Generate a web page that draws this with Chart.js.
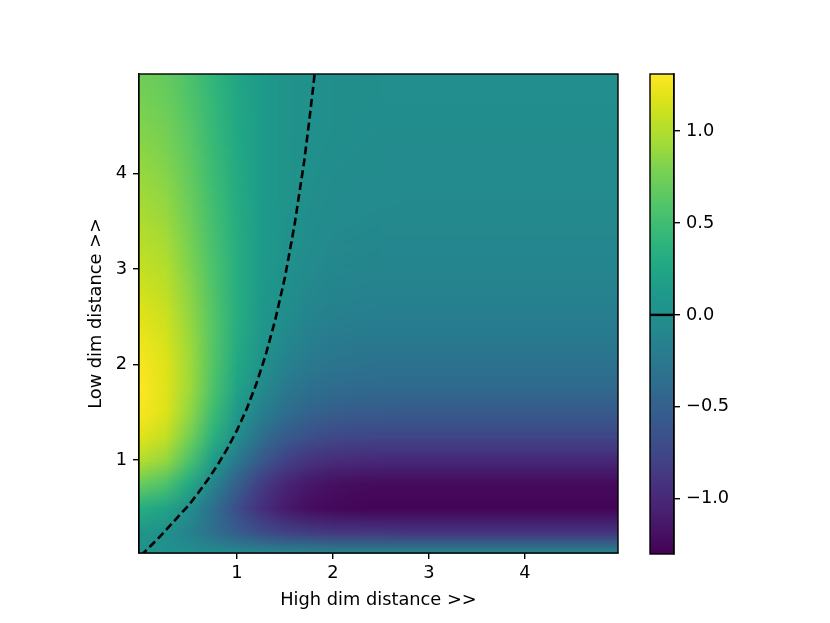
<!DOCTYPE html>
<html>
<head>
  <meta charset="UTF-8">
  <title>High dim vs low dim distance</title>
  <script src="https://cdn.jsdelivr.net/npm/chart.js"></script>
  <style>
    body { margin: 0; background: #fff; }
    #wrap { position: relative; width: 830px; height: 623px; }
    #mainChart { position: absolute; left: 0; top: 0; }
    #barChart { position: absolute; left: 620px; top: 0; }
  </style>
</head>
<body>
  <div id="wrap">
    <canvas id="mainChart" width="830" height="623"></canvas>
    <canvas id="barChart" width="210" height="623"></canvas>
  </div>

  <script>
    // grid sample positions (high dim distance = x, low dim distance = y)
    const xValues = [0, 0.25, 0.5, 0.75, 1, 1.25, 1.5, 1.75, 2, 2.25, 2.5, 2.75, 3, 3.25, 3.5, 3.75, 4, 4.25, 4.5, 4.75, 5];
    const yValues = [0, 0.25, 0.5, 0.75, 1, 1.25, 1.5, 1.75, 2, 2.25, 2.5, 2.75, 3, 3.25, 3.5, 3.75, 4, 4.25, 4.5, 4.75, 5];

    // one row per y value
    const zRows = [
      [0, 0, 0, 0, 0, 0, 0, 0, 0, 0, 0, 0, 0, 0, 0, 0, 0, 0, 0, 0, 0],
      [0.06, 0.00, -0.15, -0.35, -0.54, -0.69, -0.79, -0.84, -0.87, -0.88, -0.88, -0.89, -0.89, -0.89, -0.89, -0.89, -0.89, -0.89, -0.89, -0.89, -0.89],
      [0.32, 0.22, -0.03, -0.37, -0.69, -0.94, -1.11, -1.21, -1.25, -1.27, -1.28, -1.28, -1.28, -1.28, -1.28, -1.28, -1.28, -1.28, -1.28, -1.28, -1.28],
      [0.69, 0.57, 0.27, -0.13, -0.52, -0.83, -1.03, -1.14, -1.19, -1.22, -1.23, -1.23, -1.23, -1.23, -1.23, -1.23, -1.23, -1.23, -1.23, -1.23, -1.23],
      [1.00, 0.88, 0.56, 0.14, -0.26, -0.58, -0.79, -0.91, -0.96, -0.99, -1.00, -1.00, -1.00, -1.00, -1.00, -1.00, -1.00, -1.00, -1.00, -1.00, -1.00],
      [1.19, 1.07, 0.76, 0.35, -0.04, -0.35, -0.56, -0.67, -0.73, -0.75, -0.76, -0.76, -0.76, -0.76, -0.76, -0.76, -0.76, -0.76, -0.76, -0.76, -0.76],
      [1.28, 1.17, 0.87, 0.48, 0.11, -0.18, -0.37, -0.48, -0.53, -0.56, -0.56, -0.57, -0.57, -0.57, -0.57, -0.57, -0.57, -0.57, -0.57, -0.57, -0.57],
      [1.30, 1.19, 0.92, 0.56, 0.21, -0.06, -0.24, -0.34, -0.39, -0.41, -0.42, -0.42, -0.42, -0.42, -0.42, -0.42, -0.42, -0.42, -0.42, -0.42, -0.42],
      [1.28, 1.18, 0.93, 0.59, 0.27, 0.02, -0.15, -0.25, -0.29, -0.31, -0.32, -0.32, -0.32, -0.32, -0.32, -0.32, -0.32, -0.32, -0.32, -0.32, -0.32],
      [1.24, 1.15, 0.91, 0.60, 0.30, 0.07, -0.09, -0.18, -0.22, -0.24, -0.24, -0.24, -0.24, -0.24, -0.24, -0.24, -0.24, -0.24, -0.24, -0.24, -0.24],
      [1.19, 1.11, 0.88, 0.60, 0.32, 0.10, -0.04, -0.13, -0.17, -0.18, -0.19, -0.19, -0.19, -0.19, -0.19, -0.19, -0.19, -0.19, -0.19, -0.19, -0.19],
      [1.13, 1.06, 0.85, 0.58, 0.32, 0.12, -0.01, -0.09, -0.13, -0.14, -0.15, -0.15, -0.15, -0.15, -0.15, -0.15, -0.15, -0.15, -0.15, -0.15, -0.15],
      [1.08, 1.01, 0.81, 0.56, 0.32, 0.13, 0.01, -0.06, -0.10, -0.11, -0.12, -0.12, -0.12, -0.12, -0.12, -0.12, -0.12, -0.12, -0.12, -0.12, -0.12],
      [1.03, 0.96, 0.78, 0.54, 0.32, 0.14, 0.02, -0.04, -0.08, -0.09, -0.10, -0.10, -0.10, -0.10, -0.10, -0.10, -0.10, -0.10, -0.10, -0.10, -0.10],
      [0.98, 0.91, 0.74, 0.52, 0.31, 0.14, 0.03, -0.03, -0.06, -0.07, -0.08, -0.08, -0.08, -0.08, -0.08, -0.08, -0.08, -0.08, -0.08, -0.08, -0.08],
      [0.93, 0.87, 0.71, 0.50, 0.30, 0.14, 0.04, -0.02, -0.05, -0.06, -0.06, -0.07, -0.07, -0.07, -0.07, -0.07, -0.07, -0.07, -0.07, -0.07, -0.07],
      [0.89, 0.83, 0.68, 0.48, 0.29, 0.14, 0.04, -0.01, -0.04, -0.05, -0.05, -0.06, -0.06, -0.06, -0.06, -0.06, -0.06, -0.06, -0.06, -0.06, -0.06],
      [0.85, 0.79, 0.65, 0.46, 0.28, 0.14, 0.05, -0.01, -0.03, -0.04, -0.05, -0.05, -0.05, -0.05, -0.05, -0.05, -0.05, -0.05, -0.05, -0.05, -0.05],
      [0.81, 0.76, 0.62, 0.44, 0.27, 0.14, 0.05, 0.00, -0.02, -0.03, -0.04, -0.04, -0.04, -0.04, -0.04, -0.04, -0.04, -0.04, -0.04, -0.04, -0.04],
      [0.77, 0.72, 0.59, 0.43, 0.26, 0.13, 0.05, 0.00, -0.02, -0.03, -0.03, -0.03, -0.03, -0.03, -0.03, -0.03, -0.03, -0.03, -0.03, -0.03, -0.03],
      [0.74, 0.69, 0.57, 0.41, 0.25, 0.13, 0.05, 0.01, -0.02, -0.02, -0.03, -0.03, -0.03, -0.03, -0.03, -0.03, -0.03, -0.03, -0.03, -0.03, -0.03]
    ];

    // zero contour (dashed)
    const contourX = [0, 0.1, 0.2, 0.3, 0.4, 0.5, 0.6, 0.7, 0.8, 0.9, 1.0, 1.1, 1.2, 1.3, 1.4, 1.5, 1.6, 1.7, 1.75, 1.8, 1.81];
    const contourY = [0, 0.10, 0.20, 0.31, 0.42, 0.53, 0.66, 0.80, 0.95, 1.12, 1.31, 1.53, 1.79, 2.10, 2.47, 2.91, 3.46, 4.12, 4.52, 4.95, 5.05];

    const xTicks = [1, 2, 3, 4];
    const yTicks = [1, 2, 3, 4];
    const cbTicks = [-1.0, -0.5, 0.0, 0.5, 1.0];
    const cbMin = -1.30, cbMax = 1.31, contourLevel = 0;

    // viridis, 21 stops
    const viridisStops = ['#440154', '#471365', '#482475', '#46337f', '#414487', '#3b528b', '#355f8d', '#2f6c8e', '#2a788e', '#25848e', '#21918c',
      '#1e9b8a', '#22a884', '#2fb47c', '#44bf70', '#5ec962', '#7ad151', '#9fda3a', '#bddf26', '#dfe318', '#fde725'];
    const stopRgb = viridisStops.map(h => [1, 3, 5].map(k => parseInt(h.substr(k, 2), 16)));

    function viridis(t) {
      t = Math.min(1, Math.max(0, t)) * (stopRgb.length - 1);
      const i = Math.min(stopRgb.length - 2, Math.floor(t));
      const f = t - i;
      return stopRgb[i].map((c, k) => Math.round(c + (stopRgb[i + 1][k] - c) * f));
    }

    Chart.defaults.font.family = 'DejaVu Sans';
    Chart.defaults.font.size = 17.8;
    Chart.defaults.color = '#000';

    const heatmapPlugin = {
      id: 'heatmap',
      beforeDatasetsDraw(chart) {
        const { ctx, chartArea: a, scales: { x, y } } = chart;
        const img = document.createElement('canvas');
        img.width = xValues.length;
        img.height = yValues.length;
        const ictx = img.getContext('2d');
        const pix = ictx.createImageData(img.width, img.height);
        zRows.forEach((row, j) => row.forEach((v, i) => {
          const c = viridis((v - cbMin) / (cbMax - cbMin));
          const k = ((img.height - 1 - j) * img.width + i) * 4;
          pix.data[k] = c[0]; pix.data[k + 1] = c[1]; pix.data[k + 2] = c[2]; pix.data[k + 3] = 255;
        }));
        ictx.putImageData(pix, 0, 0);

        const dx = (xValues[1] - xValues[0]) / 2, dy = (yValues[1] - yValues[0]) / 2;
        const left = x.getPixelForValue(xValues[0] - dx);
        const right = x.getPixelForValue(xValues[xValues.length - 1] + dx);
        const top = y.getPixelForValue(yValues[yValues.length - 1] + dy);
        const bottom = y.getPixelForValue(yValues[0] - dy);

        ctx.save();
        ctx.beginPath();
        ctx.rect(a.left, a.top, a.right - a.left, a.bottom - a.top);
        ctx.clip();
        ctx.imageSmoothingEnabled = true;
        ctx.drawImage(img, left, top, right - left, bottom - top);
        ctx.restore();
      },
      afterDraw(chart) {
        const { ctx, chartArea: a } = chart;
        ctx.save();
        ctx.strokeStyle = '#000';
        ctx.lineWidth = 1.4;
        ctx.strokeRect(a.left, a.top, a.right - a.left, a.bottom - a.top);
        ctx.restore();
      }
    };

    new Chart(document.getElementById('mainChart'), {
      type: 'scatter',
      data: {
        datasets: [{
          data: contourX.map((x, i) => ({ x: x, y: contourY[i] })),
          showLine: true,
          borderColor: '#000',
          borderWidth: 2.6,
          borderDash: [8, 4],
          pointRadius: 0,
          fill: false
        }]
      },
      options: {
        responsive: false,
        animation: false,
        devicePixelRatio: 1,
        layout: { padding: { left: 76, top: 74, right: 212, bottom: 10 } },
        plugins: { legend: { display: false }, tooltip: { enabled: false } },
        scales: {
          x: {
            type: 'linear',
            min: -0.02,
            max: 4.97,
            afterBuildTicks: s => { s.ticks = xTicks.map(v => ({ value: v })); },
            afterFit: s => { s.height = 60; },
            ticks: { padding: 4, callback: v => String(v) },
            grid: { drawOnChartArea: false, drawTicks: true, tickLength: 6, color: '#000', lineWidth: 1.4 },
            border: { display: true, color: '#000', width: 1.4 },
            title: { display: true, text: 'High dim distance >>', padding: { top: 0, bottom: 2 } }
          },
          y: {
            type: 'linear',
            min: 0.027,
            max: 5.04,
            afterBuildTicks: s => { s.ticks = yTicks.map(v => ({ value: v })); },
            afterFit: s => { s.width = 63; },
            ticks: { padding: 6, callback: v => String(v) },
            grid: { drawOnChartArea: false, drawTicks: true, tickLength: 6, color: '#000', lineWidth: 1.4 },
            border: { display: true, color: '#000', width: 1.4 },
            title: { display: true, text: 'Low dim distance >>', padding: { top: 10, bottom: 0 } }
          }
        }
      },
      plugins: [heatmapPlugin]
    });

    const colorbarPlugin = {
      id: 'colorbar',
      beforeDraw(chart) {
        const { ctx, chartArea: a, scales: { y } } = chart;
        ctx.save();
        for (let py = Math.floor(a.top); py < a.bottom; py++) {
          const v = y.getValueForPixel(py + 0.5);
          const c = viridis((v - cbMin) / (cbMax - cbMin));
          ctx.fillStyle = `rgb(${c[0]},${c[1]},${c[2]})`;
          ctx.fillRect(a.left, py, a.right - a.left, 1);
        }
        ctx.restore();
      },
      afterDraw(chart) {
        const { ctx, chartArea: a, scales: { y } } = chart;
        ctx.save();
        const py = y.getPixelForValue(contourLevel);
        ctx.strokeStyle = '#000';
        ctx.lineWidth = 2.4;
        ctx.beginPath();
        ctx.moveTo(a.left, py);
        ctx.lineTo(a.right, py);
        ctx.stroke();
        ctx.lineWidth = 1.4;
        ctx.strokeRect(a.left, a.top, a.right - a.left, a.bottom - a.top);
        ctx.restore();
      }
    };

    new Chart(document.getElementById('barChart'), {
      type: 'scatter',
      data: { datasets: [] },
      options: {
        responsive: false,
        animation: false,
        devicePixelRatio: 1,
        layout: { padding: { left: 30, top: 74, right: 20, bottom: 69 } },
        plugins: { legend: { display: false }, tooltip: { enabled: false } },
        scales: {
          x: { display: false, min: 0, max: 1 },
          y: {
            type: 'linear',
            position: 'right',
            min: cbMin,
            max: cbMax,
            afterBuildTicks: s => { s.ticks = cbTicks.map(v => ({ value: v })); },
            afterFit: s => { s.width = 136; },
            ticks: { padding: 6, callback: v => (v < 0 ? '\u2212' : '') + Math.abs(v).toFixed(1) },
            grid: { drawOnChartArea: false, drawTicks: true, tickLength: 6, color: '#000', lineWidth: 1.4 },
            border: { display: true, color: '#000', width: 1.4 }
          }
        }
      },
      plugins: [colorbarPlugin]
    });
  </script>
</body>
</html>
